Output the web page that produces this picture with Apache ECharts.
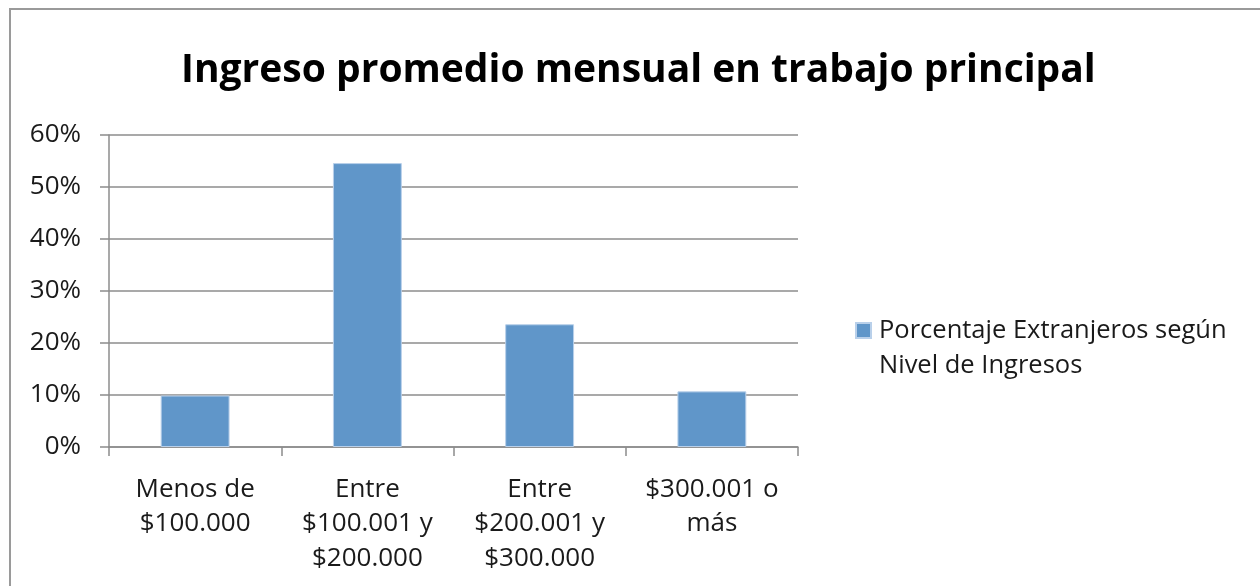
<!DOCTYPE html>
<html>
<head>
<meta charset="utf-8">
<script src="https://cdn.jsdelivr.net/npm/echarts@6/dist/echarts.min.js"></script>
<style>
  html, body { margin: 0; padding: 0; background: #fff; }
  #chart { width: 1260px; height: 586px; }
</style>
</head>
<body>
<div id="chart"></div>
<script>
const categories = [
  "Menos de\n$100.000",
  "Entre\n$100.001 y\n$200.000",
  "Entre\n$200.001 y\n$300.000",
  "$300.001 o\nmás",
];
const values = [9.9, 54.6, 23.6, 10.7];
const seriesName = "Porcentaje Extranjeros según\nNivel de Ingresos";
const yTicks = [0, 10, 20, 30, 40, 50, 60];

const chart = echarts.init(document.getElementById("chart"), null, {
  renderer: "canvas",
});

const textColor = "#1a1a1a";
const fontFamily = "Open Sans";

const option = {
  animation: false,
  graphic: [
    {
      type: "rect",
      shape: { x: 10, y: 9, width: 1400, height: 800 },
      style: { fill: "none", stroke: "#9a9a9a", lineWidth: 2 },
      silent: true,
    },
  ],
  title: {
    text: "Ingreso promedio mensual en trabajo principal",
    left: 176,
    top: 46,
    textStyle: {
      color: "#000",
      fontFamily: fontFamily,
      fontSize: 39,
      fontWeight: "bold",
    },
  },
  legend: {
    left: 850,
    top: 268,
    orient: "vertical",
    icon: "rect",
    itemWidth: 15,
    itemHeight: 15,
    // blank first line keeps the icon level with the first text line
    formatter: (name) => "\n" + name,
    textStyle: {
      color: textColor,
      fontFamily: fontFamily,
      fontSize: 25.5,
      lineHeight: 35,
      padding: [10, 0, 0, 3],
    },
  },
  grid: {
    left: 109,
    right: 462,
    top: 135,
    bottom: 139,
    containLabel: false,
  },
  xAxis: {
    type: "category",
    data: categories,
    axisLine: { show: true, lineStyle: { color: "#8c8c8c", width: 1.5 } },
    axisTick: {
      show: true,
      alignWithLabel: false,
      length: 9,
      lineStyle: { color: "#8c8c8c", width: 1.5 },
    },
    axisLabel: {
      color: textColor,
      fontFamily: fontFamily,
      fontSize: 26,
      lineHeight: 34.5,
      margin: 25,
      interval: 0,
    },
  },
  yAxis: {
    type: "value",
    min: 0,
    max: 60,
    interval: 10,
    axisLine: { show: true, lineStyle: { color: "#8c8c8c", width: 1.5 } },
    axisTick: {
      show: true,
      length: 9,
      lineStyle: { color: "#8c8c8c", width: 1.5 },
    },
    splitLine: { lineStyle: { color: "#8c8c8c", width: 1.5 } },
    axisLabel: {
      color: textColor,
      fontFamily: fontFamily,
      fontSize: 26,
      margin: 28,
      formatter: (v) => (yTicks.includes(v) ? v + "%" : ""),
    },
  },
  series: [
    {
      name: seriesName,
      type: "bar",
      data: values,
      barCategoryGap: "60%",
      itemStyle: {
        color: "#6096c9",
        borderColor: "#b9d0ea",
        borderWidth: 1,
      },
      emphasis: { disabled: true },
    },
  ],
};

chart.setOption(option);
</script>
</body>
</html>
